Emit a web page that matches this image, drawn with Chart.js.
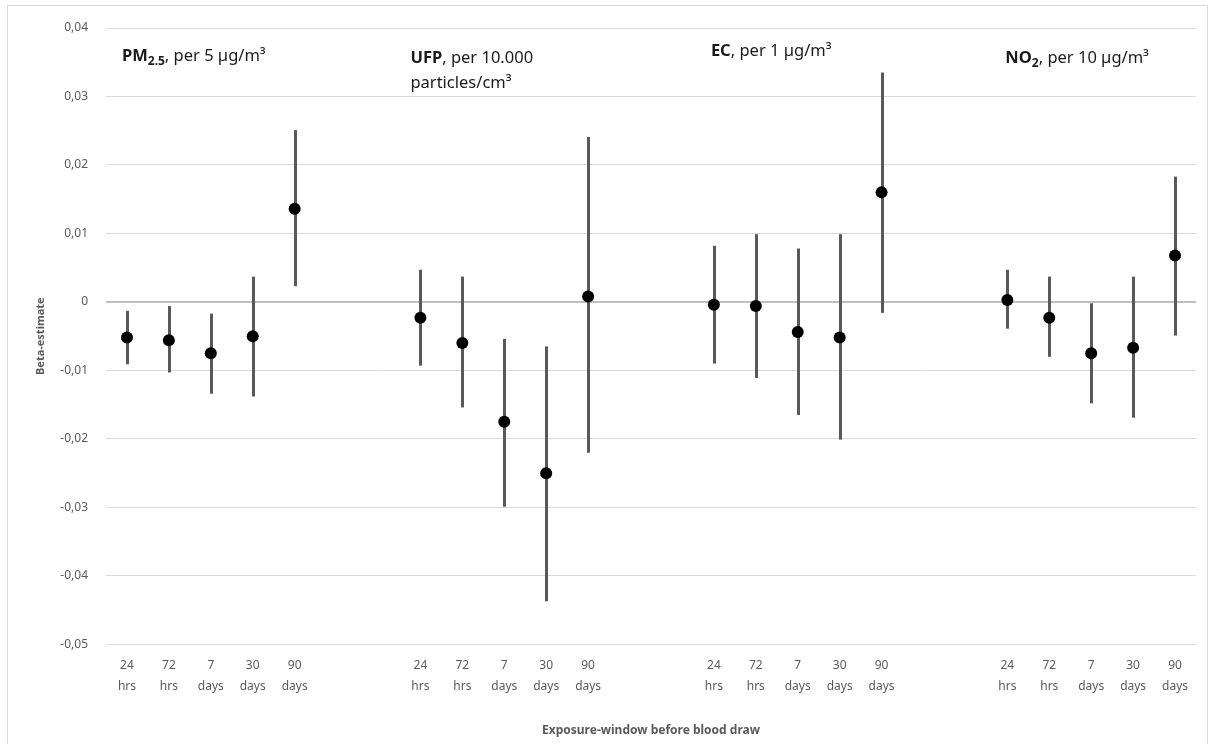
<!DOCTYPE html>
<html>
<head>
<meta charset="utf-8">
<script src="https://cdn.jsdelivr.net/npm/chart.js@4"></script>
<style>
  html, body { margin: 0; padding: 0; background: #ffffff; }
  #wrap { position: relative; width: 1210px; height: 744px; }
</style>
</head>
<body>
<div id="wrap"><canvas id="c" width="1210" height="744"></canvas></div>
<script>
// ---- data ----
const windows = [['24', 'hrs'], ['72', 'hrs'], ['7', 'days'], ['30', 'days'], ['90', 'days']];
const gapSlots = 2;

const pm25Est = [-0.0052, -0.0056, -0.0075, -0.0050, 0.0136];
const pm25Lo  = [-0.0091, -0.0103, -0.0134, -0.0138, 0.0023];
const pm25Hi  = [-0.0013, -0.0006, -0.0017, 0.0037, 0.0251];

const ufpEst = [-0.0023, -0.0060, -0.0175, -0.0250, 0.0008];
const ufpLo  = [-0.0093, -0.0154, -0.0299, -0.0437, -0.0220];
const ufpHi  = [0.0047, 0.0037, -0.0054, -0.0065, 0.0241];

const ecEst = [-0.0004, -0.0006, -0.0044, -0.0052, 0.0160];
const ecLo  = [-0.0090, -0.0111, -0.0165, -0.0201, -0.0016];
const ecHi  = [0.0082, 0.0099, 0.0078, 0.0099, 0.0335];

const no2Est = [0.0003, -0.0023, -0.0075, -0.0067, 0.0068];
const no2Lo  = [-0.0039, -0.0080, -0.0148, -0.0169, -0.0049];
const no2Hi  = [0.0047, 0.0037, -0.0002, 0.0037, 0.0183];

const yTicksMin = -0.05, yTicksMax = 0.04, yStep = 0.01;

const groupTitles = [
  { parts: [[{ t: 'PM', b: true }, { t: '2.5', b: true, sub: true }, { t: ', per 5 µg/m³' }]], value: 0.0361, dx: -2 },
  { parts: [[{ t: 'UFP', b: true }, { t: ', per 10.000' }], [{ t: 'particles/cm³' }]], value: 0.0357, dx: -7 },
  { parts: [[{ t: 'EC', b: true }, { t: ', per 1 µg/m³' }]], value: 0.0368, dx: 0 },
  { parts: [[{ t: 'NO', b: true }, { t: '2', b: true, sub: true }, { t: ', per 10 µg/m³' }]], value: 0.0357, dx: 1 }
];

// ---- build combined category series ----
const groups = [
  [pm25Est, pm25Lo, pm25Hi],
  [ufpEst, ufpLo, ufpHi],
  [ecEst, ecLo, ecHi],
  [no2Est, no2Lo, no2Hi]
];
const labels = [], est = [], lo = [], hi = [], groupStart = [];
groups.forEach((g, gi) => {
  if (gi > 0) for (let k = 0; k < gapSlots; k++) { labels.push(''); est.push(null); lo.push(null); hi.push(null); }
  groupStart.push(labels.length);
  windows.forEach((w, i) => { labels.push(w); est.push(g[0][i]); lo.push(g[1][i]); hi.push(g[2][i]); });
});

const FONT = "'Noto Sans', 'DejaVu Sans', sans-serif";

const errorBars = {
  id: 'errorBars',
  beforeDatasetsDraw(chart) {
    const { ctx, scales: { x, y } } = chart;
    ctx.save();
    ctx.strokeStyle = '#595959';
    ctx.lineWidth = 3;
    ctx.lineCap = 'butt';
    est.forEach((v, i) => {
      if (v === null) return;
      const px = Math.round(x.getPixelForValue(i)) + 0.5;
      ctx.beginPath();
      ctx.moveTo(px, y.getPixelForValue(hi[i]));
      ctx.lineTo(px, y.getPixelForValue(lo[i]));
      ctx.stroke();
    });
    ctx.restore();
  }
};

const titlesPlugin = {
  id: 'groupTitles',
  afterDraw(chart) {
    const { ctx, scales: { x, y } } = chart;
    ctx.save();
    ctx.fillStyle = '#1a1a1a';
    ctx.textBaseline = 'alphabetic';
    groupTitles.forEach((gt, gi) => {
      const x0 = x.getPixelForValue(groupStart[gi]) - 3 + gt.dx;
      let yc = y.getPixelForValue(gt.value);
      gt.parts.forEach((line, li) => {
        let cx = x0;
        const base = yc + 6 + li * 25;
        line.forEach(seg => {
          const size = seg.sub ? 12 : 16.5;
          ctx.font = (seg.b ? 'bold ' : '') + size + 'px ' + FONT;
          ctx.fillText(seg.t, cx, base + (seg.sub ? 4 : 0));
          cx += ctx.measureText(seg.t).width;
        });
      });
    });
    ctx.restore();
  }
};

const frame = {
  id: 'frame',
  beforeDraw(chart) {
    const { ctx } = chart;
    ctx.save();
    ctx.fillStyle = '#ffffff';
    ctx.fillRect(0, 0, chart.width, chart.height);
    ctx.strokeStyle = '#d9d9d9';
    ctx.lineWidth = 1;
    ctx.strokeRect(7.5, 5.5, chart.width - 10, chart.height - 4);
    ctx.restore();
  }
};

Chart.defaults.font.family = FONT;
Chart.defaults.color = '#595959';

new Chart(document.getElementById('c'), {
  type: 'line',
  data: {
    labels: labels,
    datasets: [{
      data: est,
      showLine: false,
      pointRadius: 6,
      pointHoverRadius: 6,
      pointBackgroundColor: '#000000',
      pointBorderWidth: 0,
      spanGaps: false
    }]
  },
  options: {
    responsive: false,
    animation: false,
    devicePixelRatio: 1,
    layout: { padding: { left: 30, right: 14, top: 28, bottom: 6 } },
    plugins: { legend: { display: false }, tooltip: { enabled: false } },
    scales: {
      x: {
        offset: true,
        grid: { display: false, drawTicks: false },
        border: { display: false },
        ticks: {
          autoSkip: false, maxRotation: 0, minRotation: 0,
          padding: 10,
          font: { size: 12, lineHeight: 1.8 },
          color: '#595959'
        },
        title: {
          display: true,
          text: 'Exposure-window before blood draw',
          font: { size: 12, weight: 'bold' },
          color: '#595959',
          padding: { top: 16, bottom: 0 }
        }
      },
      y: {
        min: yTicksMin, max: yTicksMax,
        afterFit(scale) { scale.width = 76; },
        border: { display: false },
        grid: {
          drawTicks: false,
          color: ctx => (ctx.tick && Math.abs(ctx.tick.value) < 1e-9) ? '#bfbfbf' : '#d9d9d9',
          lineWidth: ctx => (ctx.tick && Math.abs(ctx.tick.value) < 1e-9) ? 2 : 1
        },
        ticks: {
          stepSize: yStep,
          padding: 18,
          font: { size: 12 },
          color: '#595959',
          callback: v => {
            const r = Math.round(v * 100) / 100;
            if (r === 0) return '0';
            return r.toFixed(2).replace('.', ',');
          }
        },
        title: {
          display: true,
          text: 'Beta-estimate',
          font: { size: 11, weight: 'bold' },
          color: '#595959',
          padding: { top: 4, bottom: 4 }
        }
      }
    }
  },
  plugins: [frame, errorBars, titlesPlugin]
});
</script>
</body>
</html>
